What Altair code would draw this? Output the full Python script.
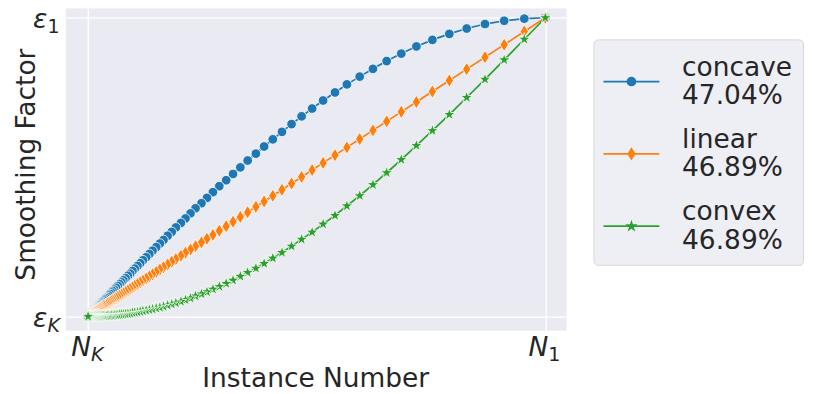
import altair as alt
import pandas as pd

# ---------------- data ----------------
series_names = ["concave", "linear", "convex"]
series_pct = ["47.04%", "46.89%", "46.89%"]
series_colors = ["#1f77b4", "#ff7f0e", "#2ca02c"]

# normalised instance position (0 = N_K, 1 = N_1)
instance_pos = [
    1.000, 0.954, 0.910, 0.868, 0.828, 0.790, 0.753, 0.718, 0.685, 0.653,
    0.623, 0.594, 0.566, 0.540, 0.514, 0.490, 0.467, 0.445, 0.424, 0.404,
    0.385, 0.367, 0.349, 0.333, 0.317, 0.302, 0.287, 0.273, 0.260, 0.248,
    0.235, 0.224, 0.213, 0.203, 0.192, 0.183, 0.174, 0.165, 0.157, 0.149,
    0.141, 0.134, 0.127, 0.120, 0.114, 0.108, 0.102, 0.097, 0.092, 0.087,
    0.082, 0.077, 0.073, 0.069, 0.065, 0.061, 0.057, 0.054, 0.051, 0.048,
    0.045, 0.042, 0.039, 0.036, 0.034, 0.031, 0.029, 0.027, 0.025, 0.023,
    0.021, 0.019, 0.0175, 0.0158, 0.0142, 0.0127, 0.0113, 0.0099, 0.0086, 0.0074,
    0.0062, 0.0050, 0.0040, 0.0029, 0.0019, 0.0010, 0.000,
]
concave_vals = [
    1.000, 0.997, 0.990, 0.979, 0.964, 0.946, 0.926, 0.904, 0.880, 0.855,
    0.829, 0.803, 0.777, 0.750, 0.723, 0.696, 0.670, 0.644, 0.618, 0.593,
    0.569, 0.545, 0.522, 0.499, 0.477, 0.456, 0.436, 0.416, 0.397, 0.379,
    0.362, 0.345, 0.328, 0.313, 0.298, 0.283, 0.270, 0.256, 0.244, 0.232,
    0.220, 0.209, 0.198, 0.188, 0.178, 0.169, 0.160, 0.152, 0.143, 0.136,
    0.128, 0.121, 0.114, 0.108, 0.102, 0.096, 0.090, 0.085, 0.080, 0.075,
    0.070, 0.065, 0.061, 0.057, 0.053, 0.049, 0.046, 0.042, 0.039, 0.036,
    0.033, 0.030, 0.0275, 0.0248, 0.0223, 0.0199, 0.0177, 0.0156, 0.0135, 0.0116,
    0.0097, 0.0079, 0.0063, 0.0046, 0.0030, 0.0016, 0.000,
]
linear_vals = [
    1.000, 0.954, 0.910, 0.868, 0.828, 0.790, 0.753, 0.718, 0.685, 0.653,
    0.623, 0.594, 0.566, 0.540, 0.514, 0.490, 0.467, 0.445, 0.424, 0.404,
    0.385, 0.367, 0.349, 0.333, 0.317, 0.302, 0.287, 0.273, 0.260, 0.248,
    0.235, 0.224, 0.213, 0.203, 0.192, 0.183, 0.174, 0.165, 0.157, 0.149,
    0.141, 0.134, 0.127, 0.120, 0.114, 0.108, 0.102, 0.097, 0.092, 0.087,
    0.082, 0.077, 0.073, 0.069, 0.065, 0.061, 0.057, 0.054, 0.051, 0.048,
    0.045, 0.042, 0.039, 0.036, 0.034, 0.031, 0.029, 0.027, 0.025, 0.023,
    0.021, 0.019, 0.0175, 0.0158, 0.0142, 0.0127, 0.0113, 0.0099, 0.0086, 0.0074,
    0.0062, 0.0050, 0.0040, 0.0029, 0.0019, 0.0010, 0.000,
]
convex_vals = [
    1.000, 0.928, 0.859, 0.794, 0.733, 0.676, 0.622, 0.572, 0.525, 0.481,
    0.441, 0.404, 0.370, 0.338, 0.309, 0.282, 0.258, 0.235, 0.214, 0.195,
    0.177, 0.161, 0.147, 0.134, 0.121, 0.110, 0.100, 0.091, 0.082, 0.075,
    0.068, 0.061, 0.055, 0.050, 0.045, 0.041, 0.037, 0.033, 0.030, 0.027,
    0.024, 0.022, 0.020, 0.018, 0.016, 0.014, 0.013, 0.012, 0.010, 0.009,
    0.008, 0.007, 0.007, 0.006, 0.005, 0.005, 0.004, 0.0036, 0.0032, 0.0028,
    0.0024, 0.0021, 0.0019, 0.0016, 0.0014, 0.0012, 0.0010, 0.0009, 0.0008, 0.0006,
    0.0005, 0.0005, 0.0004, 0.0003, 0.0002, 0.0002, 0.0002, 0.0001, 0.0001, 0.0001,
    0.0, 0.0, 0.0, 0.0, 0.0, 0.0, 0.0,
]

tick_values = [0, 1]
x_tick_main = ["N", "N"]
x_tick_sub = ["K", "1"]
y_tick_main = ["ε", "ε"]
y_tick_sub = ["K", "1"]

x_title = "Instance Number"
y_title = "Smoothing Factor"

# ---------------- tables ----------------
rows = []
for name, vals in zip(series_names, [concave_vals, linear_vals, convex_vals]):
    for xv, yv in zip(instance_pos, vals):
        rows.append({"series": name, "mk": name + "_m", "x": xv, "y": yv})
df = pd.DataFrame(rows)
xlab_df = pd.DataFrame({"tick": tick_values, "main": x_tick_main, "sub": x_tick_sub})
ylab_df = pd.DataFrame({"tick": tick_values, "main": y_tick_main, "sub": y_tick_sub})

# ---------------- styling ----------------
W, H = 502, 323
TXT = "#262626"
FONT = "DejaVu Sans"
FS = 26.5
SUB_FS = 19
MARK_SIZE = 190   # one size; relative marker sizes are built into the paths

# markers (unit path coordinates are scaled by sqrt(size)/2)
circle_path = ("M0.7,0L0.647,0.268L0.495,0.495L0.268,0.647L0,0.7L-0.268,0.647"
               "L-0.495,0.495L-0.647,0.268L-0.7,0L-0.647,-0.268L-0.495,-0.495"
               "L-0.268,-0.647L0,-0.7L0.268,-0.647L0.495,-0.495L0.647,-0.268Z")
thin_diamond = "M0,-0.98L0.6,0L0,0.98L-0.6,0Z"
star_path = ("M0,-0.95L0.214,-0.294L0.903,-0.294L0.345,0.112L0.559,0.769L0,0.363"
             "L-0.559,0.769L-0.345,0.112L-0.903,-0.294L-0.214,-0.294Z")
marker_shapes = [circle_path, thin_diamond, star_path]
mk_domain = [n + "_m" for n in series_names]


def label_expr(keys, blank=False):
    def item(n, p):
        return "['\u00a0','\u00a0']" if blank else "['%s','%s']" % (n, p)
    expr = item(series_names[-1], series_pct[-1])
    for k, n, p in reversed(list(zip(keys[:-1], series_names[:-1], series_pct[:-1]))):
        expr = "datum.value == '%s' ? %s : %s" % (k, item(n, p), expr)
    return expr


leg_common = dict(
    orient="none", legendX=529, legendY=31, title=" ", titleFontSize=12, titlePadding=7,
    padding=10, rowPadding=16.5,
    labelFont=FONT, labelFontSize=FS, labelLimit=400, labelOffset=37.5,
    labelBaseline="bottom", symbolOffset=14.75,
)
# legend for the lines (draws the box and the text)
leg_lines = alt.Legend(
    labelExpr=label_expr(series_names), labelColor=TXT,
    fillColor="rgba(234,234,242,0.8)", strokeColor="#D6D6D6", cornerRadius=4,
    symbolType="M-7,0L7,0", symbolSize=64, symbolStrokeWidth=1.7,
    **leg_common,
)
# legend for the markers, laid exactly over the line legend
leg_marks = alt.Legend(
    labelExpr=label_expr(mk_domain, blank=True), labelColor=TXT,
    symbolSize=MARK_SIZE, symbolStrokeColor="white", symbolStrokeWidth=0.8,
    symbolOpacity=1,
    **leg_common,
)

xscale = alt.Scale(domain=[-0.0486, 1.0465], nice=False, zero=False)
yscale = alt.Scale(domain=[-0.0478, 1.0311], nice=False, zero=False)
grid_common = dict(values=tick_values, grid=True, gridColor="white", gridWidth=1.3,
                   labels=False, ticks=False, domain=False,
                   titleFont=FONT, titleFontSize=FS, titleFontWeight="normal",
                   titleColor=TXT, titleBaseline="alphabetic")
xaxis = alt.Axis(title=x_title, titleX=250, titleY=55.7, titleAlign="center", **grid_common)
yaxis = alt.Axis(title=y_title, titleX=-31, titleY=156, titleAlign="center",
                 titleAngle=270, **grid_common)

X = alt.X("x:Q", scale=xscale, axis=xaxis)
Y = alt.Y("y:Q", scale=yscale, axis=yaxis)
color_enc = alt.Color("series:N", scale=alt.Scale(domain=series_names, range=series_colors),
                      legend=leg_lines)
fill_enc = alt.Fill("mk:N", scale=alt.Scale(domain=mk_domain, range=series_colors),
                    legend=leg_marks)
shape_enc = alt.Shape("mk:N", scale=alt.Scale(domain=mk_domain, range=marker_shapes),
                      legend=leg_marks)

layers = []
for name in series_names:
    base = alt.Chart(df).transform_filter(alt.datum.series == name)
    layers.append(base.mark_line(strokeWidth=1.7).encode(x=X, y=Y, color=color_enc))
    layers.append(
        base.mark_point(filled=True, opacity=1, size=MARK_SIZE,
                        stroke="white", strokeWidth=0.8)
        .encode(x=X, y=Y, fill=fill_enc, shape=shape_enc)
    )

# tick labels (N_K, N_1, eps_K, eps_1)
XT = alt.X("tick:Q", scale=xscale, axis=xaxis)
YT = alt.Y("tick:Q", scale=yscale, axis=yaxis)
xl = alt.Chart(xlab_df)
layers.append(xl.mark_text(font=FONT, fontStyle="italic", fontSize=FS, color=TXT,
                           align="right", baseline="alphabetic", dx=3)
              .encode(x=XT, y=alt.value(H + 25.7), text="main:N"))
layers.append(xl.transform_filter(alt.datum.sub == "K")
              .mark_text(font=FONT, fontStyle="italic", fontSize=SUB_FS, color=TXT,
                         align="left", baseline="alphabetic", dx=3)
              .encode(x=XT, y=alt.value(H + 30.7), text="sub:N"))
layers.append(xl.transform_filter(alt.datum.sub != "K")
              .mark_text(font=FONT, fontSize=SUB_FS, color=TXT,
                         align="left", baseline="alphabetic", dx=3)
              .encode(x=XT, y=alt.value(H + 30.7), text="sub:N"))

yl = alt.Chart(ylab_df)
layers.append(yl.mark_text(font=FONT, fontStyle="italic", fontSize=FS, color=TXT,
                           align="right", baseline="alphabetic", dy=10.5)
              .encode(y=YT, x=alt.value(-18.5), text="main:N"))
layers.append(yl.transform_filter(alt.datum.sub == "K")
              .mark_text(font=FONT, fontStyle="italic", fontSize=SUB_FS, color=TXT,
                         align="left", baseline="alphabetic", dy=15.2)
              .encode(y=YT, x=alt.value(-18.5), text="sub:N"))
layers.append(yl.transform_filter(alt.datum.sub != "K")
              .mark_text(font=FONT, fontSize=SUB_FS, color=TXT,
                         align="left", baseline="alphabetic", dy=15.2)
              .encode(y=YT, x=alt.value(-18.5), text="sub:N"))

chart = (
    alt.layer(*layers)
    .properties(width=W, height=H,
                padding={"left": 58, "top": 0, "right": 240, "bottom": 64},
                autosize=alt.AutoSizeParams(type="none"))
    .configure(font=FONT)
    .configure_view(fill="#EAEAF2", strokeWidth=0)
)

chart.save("out.html", embed_options={"renderer": "svg", "actions": False})
